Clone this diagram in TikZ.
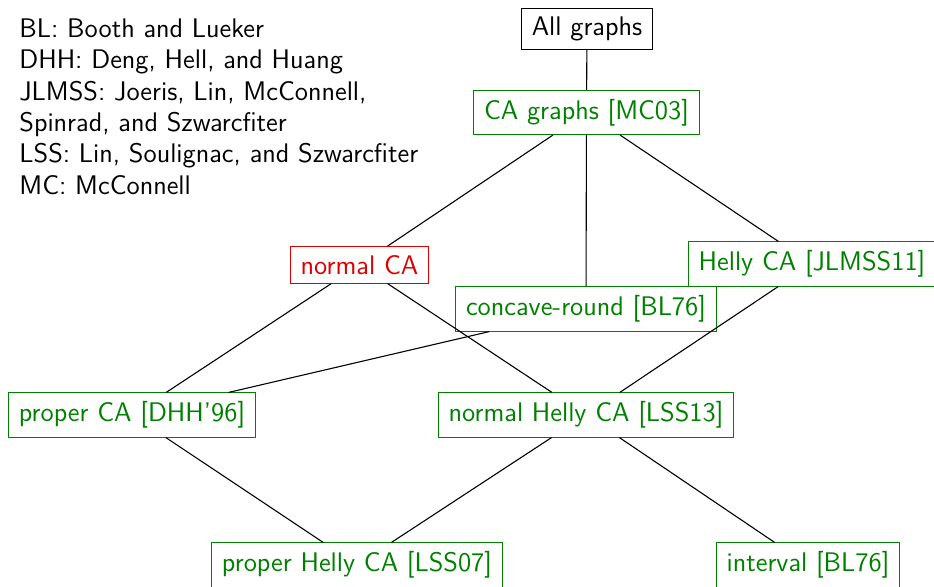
\documentclass[tikz,border=0pt]{standalone}
\definecolor{cgreen}{RGB}{0,128,0}
\definecolor{cred}{RGB}{220,0,0}
\newcommand{\diagfont}{\fontsize{13.45}{15.65}\selectfont\sffamily}
\tikzset{
  boxbase/.style={font=\diagfont, line width=0.5pt, inner xsep=5.1pt, inner ysep=4.3pt},
  cls/.style={boxbase, draw=cgreen, text=cgreen},
  redcls/.style={boxbase, draw=cred, text=cred},
  topcls/.style={boxbase, draw=black, text=black},
  edge/.style={line width=0.55pt, black}
}
\begin{document}
\begin{tikzpicture}[x=0.5pt, y=-0.5pt]
  \useasboundingbox (0,0) rectangle (934,587);
  \clip (0,0) rectangle (934,587);
  \node[font=\diagfont, align=left, anchor=north west, inner sep=0pt] (legend) at (19,18.5)
    {BL: Booth and Lueker\\
     DHH: Deng, Hell, and Huang\\
     JLMSS: Joeris, Lin, McConnell,\\
     Spinrad, and Szwarcfiter\\
     LSS: Lin, Soulignac, and Szwarcfiter\\
     MC: McConnell};
  \node[topcls] (all) at (587,29) {All graphs};
  \node[cls] (ca) at (586.5,112.5) {CA graphs [MC03]};
  \node[redcls] (nca) at (359.5,265) {normal CA};
  \node[cls] (cr) at (586,309) {concave-round [BL76]};
  \node[cls] (hca) at (812,264) {Helly CA [JLMSS11]};
  \node[cls] (pca) at (132,415) {proper CA [DHH'96]};
  \node[cls] (nhca) at (586,415) {normal Helly CA [LSS13]};
  \node[cls] (phca) at (357,565) {proper Helly CA [LSS07]};
  \node[cls] (int) at (808,565) {interval [BL76]};
  \draw[edge] (all) -- (ca);
  \draw[edge] (ca) -- (nca);
  \draw[edge] (ca) -- (cr);
  \draw[edge] (ca) -- (hca);
  \draw[edge] (nca) -- (pca);
  \draw[edge] (nca) -- (nhca);
  \draw[edge] (cr) -- (pca);
  \draw[edge] (hca) -- (nhca);
  \draw[edge] (pca) -- (phca);
  \draw[edge] (nhca) -- (phca);
  \draw[edge] (nhca) -- (int);
\end{tikzpicture}
\end{document}
